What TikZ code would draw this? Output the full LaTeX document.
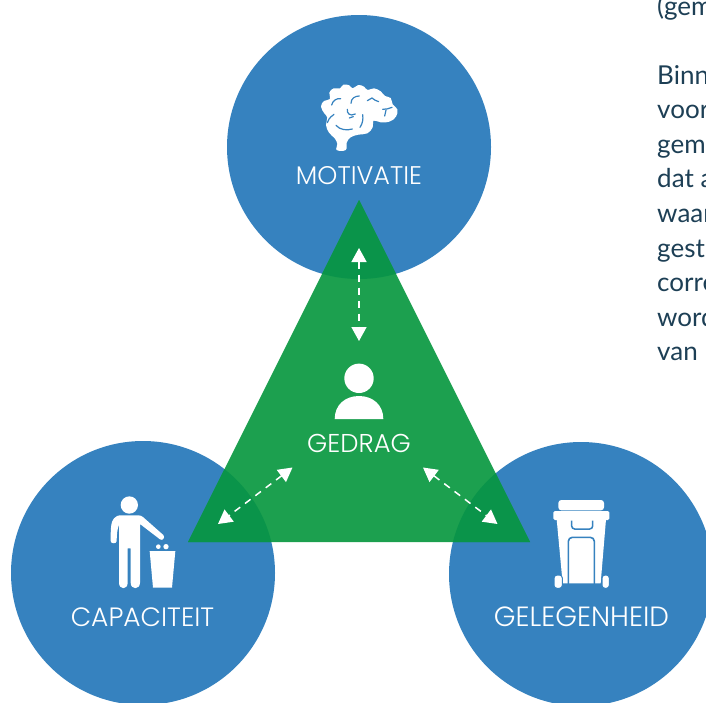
\documentclass[tikz,border=0pt]{standalone}
\usepackage{fontspec}
\usetikzlibrary{arrows.meta}
\setmainfont{Lato}
\newfontfamily\labelfont{Poppins Light}
\definecolor{cblue}{HTML}{3682BF}
\definecolor{cgreen}{HTML}{1CA04F}
\definecolor{cdark}{HTML}{0A944A}
\definecolor{ctext}{HTML}{1D3F55}
\tikzset{
  circ/.style={fill=cblue,draw=none},
  lab/.style={text=white,font=\labelfont\fontsize{#1}{#1}\selectfont,anchor=base,inner sep=0pt},
  body/.style={text=ctext,font=\fontsize{26}{26}\selectfont,anchor=base west,inner sep=0pt},
  link/.style={white,line width=1.5pt,dash pattern=on 7pt off 6pt,{Triangle[length=14pt,width=15pt]}-{Triangle[length=14pt,width=15pt]}},
  icon/.style={fill=white,draw=none},
  crease/.style={draw=cblue,line width=1.2pt,line cap=round,fill=none},
}
\begin{document}
\begin{tikzpicture}[x=1pt,y=-1pt]
\useasboundingbox (0,0) rectangle (706,702);
\clip (0,0) rectangle (706,702);
% circles
\fill[circ] (359,147) circle[radius=132];
\fill[circ] (143,573) circle[radius=132];
\fill[circ] (581,574) circle[radius=132];
% triangle and overlaps
\fill[cgreen] (359,200) -- (530,542) -- (188,542) -- cycle;
\begin{scope}
  \clip (359,200) -- (530,542) -- (188,542) -- cycle;
  \fill[cdark] (359,147) circle[radius=132];
  \fill[cdark] (143,573) circle[radius=132];
  \fill[cdark] (581,574) circle[radius=132];
\end{scope}
% brain
\begin{scope}[shift={(290,70)},scale=1/3]
  \fill[icon] plot[smooth cycle,tension=.7] coordinates {
    (140,240)(142,222)(134,205)(117,188)(108,165)(112,143)(103,130)(93,110)(102,93)(120,87)(118,68)(131,55)(150,55)(160,44)(178,46)(188,55)(205,45)(222,50)(233,60)(252,55)(272,64)(285,78)(302,84)(308,103)(322,118)(318,140)(298,155)(272,157)(251,152)(248,172)(232,190)(205,194)(182,202)(170,218)(167,240)};
  \fill[icon] (140,226) rectangle (167,240);
  \draw[crease] (112,158) .. controls (118,140) and (128,138) .. (132,133);
  \draw[crease] (125,105) .. controls (128,92) and (140,84) .. (152,86);
  \draw[crease] (138,166) .. controls (150,180) and (170,182) .. (187,177);
  \draw[crease] (183,100) .. controls (183,85) and (195,78) .. (208,78);
  \draw[crease] (172,118) .. controls (170,130) and (180,140) .. (196,132);
  \draw[crease] (178,144) -- (190,140);
  \draw[crease] (210,172) .. controls (218,160) and (220,148) .. (218,134);
  \draw[crease] (232,92) -- (246,84) .. controls (252,90) and (258,92) .. (266,95);
  \draw[crease] (278,118) .. controls (288,118) and (298,116) .. (306,112);
  \draw[crease] (288,120) -- (284,138);
\end{scope}
% man with litter bin
\begin{scope}[shift={(90,480)},scale=1/3]
  \fill[icon] (118,75) circle[radius=26];
  \fill[icon] (62,183) .. controls (62,150) and (62,125) .. (72,115) .. controls (78,108) and (84,106) .. (95,106)
    -- (146,106) .. controls (152,106) and (155,108) .. (160,112) -- (220,165)
    .. controls (226,172) and (218,184) .. (210,178) -- (150,132) -- (150,308)
    .. controls (150,330) and (122,330) .. (122,308) -- (122,205) -- (113,205) -- (113,308)
    .. controls (113,330) and (87,330) .. (87,308) -- (87,135) .. controls (82,145) and (80,165) .. (80,183)
    .. controls (80,192) and (62,192) .. (62,183) -- cycle;
  \fill[icon] (179,213) -- (256,213) -- (246,323) -- (189,323) -- cycle;
  \fill[icon] (205,200) circle[radius=7];
  \fill[icon] (228,200) circle[radius=8];
\end{scope}
% wheelie bin
\begin{scope}[shift={(530,490)},scale=1/3]
  \fill[icon,rounded corners=3pt] (85,61) -- (85,30) -- (222,30) -- (222,61) -- cycle;
  \fill[icon,rounded corners=1.5pt] (70,90) -- (70,63) -- (238,63) -- (238,90) -- cycle;
  \fill[icon] (80,88) -- (228,88) -- (212,280) -- (98,280) -- cycle;
  \draw[cblue,line width=1pt,fill=white,rounded corners=3pt] (72,295) -- (72,255) -- (97,255) -- (97,295) -- cycle;
  \draw[cblue,line width=1pt,fill=white,rounded corners=3pt] (216,295) -- (216,255) -- (238,255) -- (238,295) -- cycle;
  \draw[cblue,line width=1.5pt,rounded corners=3pt] (125,92) -- (125,117) -- (188,117) -- (188,92);
  \draw[cblue,line width=1.6pt,rounded corners=4pt] (115,282) -- (115,142) -- (193,142) -- (193,282);
\end{scope}
% person
\fill[icon] (359,378.3) circle[radius=14.7];
\fill[icon] (334.7,419) .. controls (334.7,405) and (345,396) .. (359,396) .. controls (373,396) and (383.3,405) .. (383.3,419) -- cycle;
% labels
\node[lab=25.5] (motivatie) at (359,184) {MOTIVATIE};
\node[lab=25.8] (gedrag) at (359,452) {GEDRAG};
\node[lab=26.5] (capaciteit) at (142.5,626) {CAPACITEIT};
\node[lab=27.8] (gelegenheid) at (581.5,626) {GELEGENHEID};
% arrows
\coordinate (t1) at (359,248); \coordinate (t2) at (359,341);
\coordinate (l1) at (292.5,467.5); \coordinate (l2) at (218,524);
\coordinate (r1) at (423,467.5); \coordinate (r2) at (497.5,524);
\draw[link] (t1) -- (t2);
\draw[link] (l1) -- (l2);
\draw[link] (r1) -- (r2);
% cropped body text
\node[body] (b0) at (657,15) {(gem};
\node[body] (b1) at (657,84) {Binn};
\node[body] (b2) at (657,118.6) {voor};
\node[body] (b3) at (657,153.2) {gem};
\node[body] (b4) at (657,187.8) {dat a};
\node[body] (b5) at (657,222.4) {waar};
\node[body] (b6) at (657,257) {gest};
\node[body] (b7) at (657,291.6) {corre};
\node[body] (b8) at (657,326.2) {word};
\node[body] (b9) at (657,360.8) {van};
\end{tikzpicture}
\end{document}
